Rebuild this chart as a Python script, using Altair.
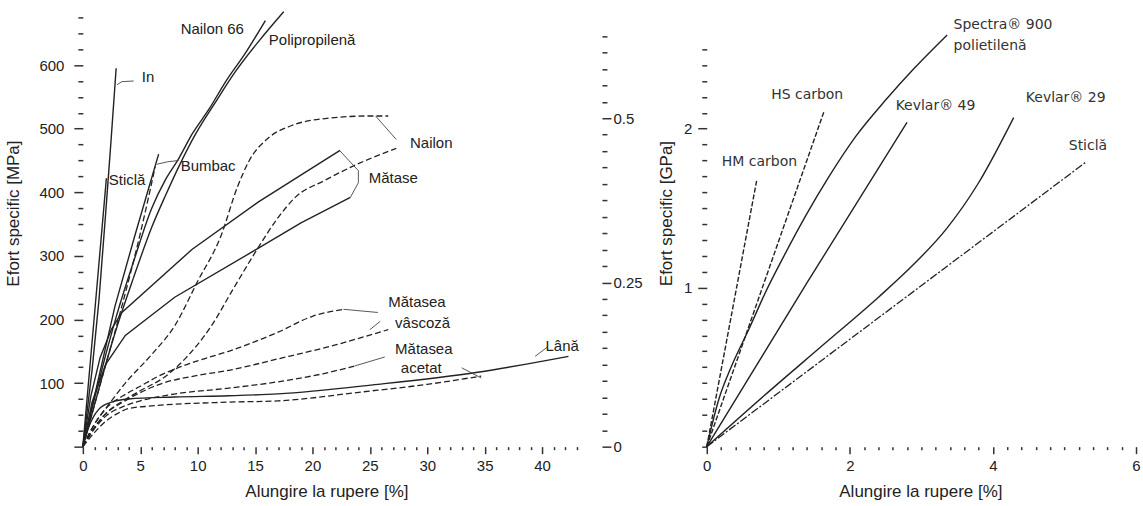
import altair as alt
import pandas as pd

# ---------------- Left panel: elongation [%] vs specific stress [MPa] ----------------
IN_X = [0, 0.8, 1.4, 2.0, 2.45, 2.9]
IN_Y = [0, 120, 230, 370, 480, 595]
STICLA_L_X = [0, 1.0, 2.05]
STICLA_L_Y = [0, 205, 422]
BUMBAC1_X = [0, 1.4, 2.8, 4.5, 6.6]
BUMBAC1_Y = [0, 110, 221, 330, 460]
BUMBAC2_X = [0, 1.7, 3.4, 5.0, 6.3]
BUMBAC2_Y = [0, 110, 221, 335, 440]
NAILON66_X = [0, 1, 2, 3, 4.4, 6, 7.2, 8.35, 9.5, 11, 12.4, 14.2, 15.9]
NAILON66_Y = [0, 75, 145, 210, 290, 375, 420, 453, 491, 531, 573, 620, 670]
POLIPROP_X = [0, 1, 2, 3, 4.4, 6, 7.2, 8.35, 9.8, 11.6, 13.3, 15.3, 17.5]
POLIPROP_Y = [0, 65, 130, 190, 265, 345, 395, 440, 491, 543, 590, 637, 684]
NAILON1_X = [0, 1, 2, 3.7, 6, 8, 10, 12, 13.5, 14.5, 16.2, 18.2, 21.1, 25, 26.6]
NAILON1_Y = [0, 35, 60, 100, 145, 190, 260, 330, 410, 450, 486, 505, 516, 520, 520]
NAILON2_X = [0, 1, 2, 3.5, 5, 7, 9, 11.2, 13, 15, 17, 18.5, 21.1, 24, 27.3]
NAILON2_Y = [0, 30, 52, 72, 88, 108, 140, 190, 245, 305, 360, 392, 419, 445, 469]
MATASE1_X = [0, 0.7, 1.5, 2.5, 3.4, 9.5, 15.3, 22.4]
MATASE1_Y = [0, 80, 140, 185, 211, 310, 385, 466]
MATASE2_X = [0, 0.8, 2, 3.7, 8, 15, 19, 23.3]
MATASE2_Y = [0, 70, 130, 175, 235, 309, 352, 392]
VASCOZA1_X = [0, 1, 2, 3.5, 5, 6.5, 10, 12.7, 17, 20, 22.7]
VASCOZA1_Y = [0, 35, 60, 80, 95, 110, 135, 150, 180, 205, 216]
VASCOZA2_X = [0, 1, 2, 3.5, 5, 7, 10, 12.7, 17, 22, 26.6]
VASCOZA2_Y = [0, 30, 52, 70, 85, 100, 112, 120, 138, 160, 184]
ACETAT1_X = [0, 1, 2, 3.5, 5, 7.7, 12.7, 17, 21, 23.7]
ACETAT1_Y = [0, 28, 48, 63, 72, 82, 92, 102, 115, 127]
ACETAT2_X = [0, 1, 2, 3, 4, 6, 12.7, 17, 24.3, 30, 34.7]
ACETAT2_Y = [0, 22, 40, 52, 60, 64, 70, 72, 86, 98, 111]
LANA_X = [0, 0.5, 1.4, 2.5, 4, 8, 12.7, 17, 25.7, 34.4, 42.3]
LANA_Y = [0, 30, 59, 70, 75, 78, 80, 83, 98, 117, 142]

# leader lines (label callouts), left panel
LEAD_IN = ([2.96, 3.4, 4.43], [569, 574, 575])
LEAD_BUMBAC = ([6.43, 7.4, 8.35], [444, 448, 450])
LEAD_NAILON = ([25.5, 27.3], [520, 483])
LEAD_MATASE = ([22.4, 24.0, 24.0, 23.3], [465, 434, 415, 392])
LEAD_VASC1 = ([22.7, 25.7], [216, 211])
LEAD_VASC2 = ([25.0, 25.9], [184, 197])
LEAD_ACET1 = ([23.7, 26.3], [127, 141])
LEAD_ACET2 = ([33.0, 34.7], [124, 108])
LEAD_LANA = ([39.4, 40.5], [142, 157])

LEFT_LABELS = ["In", "Sticlă", "Bumbac", "Nailon 66", "Polipropilenă", "Nailon", "Mătase",
               "Mătasea", "vâscoză", "Mătasea", "acetat", "Lână"]
LEFT_LABEL_X = [5.13, 2.26, 8.52, 8.52, 16.2, 28.5, 24.9, 26.6, 27.2, 27.2, 27.7, 40.3]
LEFT_LABEL_Y = [581, 419, 441, 656, 639, 477, 422, 227, 195, 153, 123, 159]

# ---------------- Right panel: elongation [%] vs specific stress [GPa] ----------------
HM_X = [0, 0.7]
HM_Y = [0, 1.68]
HS_X = [0, 1.64]
HS_Y = [0, 2.11]
SPECTRA_X = [0, 0.17, 0.35, 0.59, 0.82, 1.08, 1.38, 1.71, 2.08, 2.5, 2.9, 3.36]
SPECTRA_Y = [0, 0.30, 0.51, 0.74, 0.97, 1.20, 1.45, 1.70, 1.95, 2.18, 2.38, 2.59]
KEV49_X = [0, 1.4, 2.8]
KEV49_Y = [0, 1.03, 2.04]
KEV29_X = [0, 0.8, 1.6, 2.4, 2.9, 3.35, 3.8, 4.29]
KEV29_Y = [0, 0.32, 0.63, 0.94, 1.15, 1.37, 1.66, 2.07]
STICLA_R_X = [0, 5.3]
STICLA_R_Y = [0, 1.79]

RIGHT_LABELS = ["Spectra® 900", "polietilenă", "HS carbon", "Kevlar® 49", "Kevlar® 29", "Sticlă", "HM carbon"]
RIGHT_LABEL_X = [3.45, 3.45, 0.9, 2.64, 4.46, 5.06, 0.21]
RIGHT_LABEL_Y = [2.65, 2.52, 2.21, 2.14, 2.19, 1.89, 1.79]

# axis tick values
LEFT_X_TICKS = list(range(0, 44))
LEFT_Y_TICKS = list(range(0, 676, 25))
SEC_TICKS = [round(i * 0.025, 3) for i in range(26)]
RIGHT_X_TICKS = [round(i * 0.2, 2) for i in range(31)]
RIGHT_Y_TICKS = [round(i * 0.1, 2) for i in range(26)]

INK = "#222222"
LFONT = "Liberation Sans"
RFONT = "DejaVu Sans"


def table(pairs):
    frames = []
    for name, (xs, ys) in pairs.items():
        frames.append(pd.DataFrame({"s": name, "x": xs, "y": ys, "o": list(range(len(xs)))}))
    return pd.concat(frames, ignore_index=True)


def cond(test, major, minor):
    return {"condition": {"test": test, "value": major}, "value": minor}


# ---- axes
ax_lx = alt.Axis(values=LEFT_X_TICKS, tickSize=cond("datum.value % 5 === 0", 7, 3),
                 labelExpr="datum.value % 5 === 0 ? datum.label : ''", labelPadding=5,
                 title="Alungire la rupere [%]", titleX=244, titleY=45, titleBaseline="middle",
                 titleAlign="center")
ax_ly = alt.Axis(values=LEFT_Y_TICKS, tickSize=cond("datum.value % 100 === 0", 9, 5),
                 labelExpr="datum.value % 100 === 0 && datum.value > 0 ? datum.label : ''",
                 labelPadding=10, title="Efort specific [MPa]", titleX=-69, titleY=196,
                 titleAngle=270, titleAlign="center", titleBaseline="middle")
sec_test = "abs(datum.value * 4 - round(datum.value * 4)) < 0.001"
ax_sec = alt.Axis(orient="right", offset=14, values=SEC_TICKS, tickSize=cond(sec_test, 9, 5),
                  labelExpr=sec_test + " ? format(datum.value, '~g') : ''", labelPadding=2)
rx_test = "abs(datum.value / 2 - round(datum.value / 2)) < 0.001"
ax_rx = alt.Axis(values=RIGHT_X_TICKS, tickSize=cond(rx_test, 7, 3),
                 labelExpr=rx_test + " ? format(datum.value, '~g') : ''", labelPadding=5,
                 title="Alungire la rupere [%]", titleX=214, titleY=45, titleBaseline="middle",
                 titleAlign="center")
ry_test = "abs(datum.value - round(datum.value)) < 0.001"
ax_ry = alt.Axis(values=RIGHT_Y_TICKS, tickSize=cond(ry_test + " && datum.value > 0", 9, 5),
                 labelExpr=ry_test + " && datum.value > 0 ? format(datum.value, '~g') : ''",
                 labelPadding=6, title="Efort specific [GPa]", titleX=-40, titleY=196,
                 titleAngle=270, titleAlign="center", titleBaseline="middle")

LX = alt.X("x:Q", scale=alt.Scale(domain=[0, 44], nice=False, zero=False), axis=ax_lx)
LY = alt.Y("y:Q", scale=alt.Scale(domain=[0, 675], nice=False, zero=False), axis=ax_ly)
RX = alt.X("x:Q", scale=alt.Scale(domain=[0, 6], nice=False, zero=False), axis=ax_rx)
RY = alt.Y("y:Q", scale=alt.Scale(domain=[0, 2.7], nice=False, zero=False), axis=ax_ry)

# ---- left panel layers
left_solid_straight = table({
    "In": (IN_X, IN_Y), "Sticla": (STICLA_L_X, STICLA_L_Y), "Bumbac1": (BUMBAC1_X, BUMBAC1_Y),
    "Matase1": (MATASE1_X, MATASE1_Y), "Matase2": (MATASE2_X, MATASE2_Y),
})
left_solid_smooth = table({
    "Nailon66": (NAILON66_X, NAILON66_Y), "PP": (POLIPROP_X, POLIPROP_Y), "Lana": (LANA_X, LANA_Y),
})
left_dashed = table({
    "Bumbac2": (BUMBAC2_X, BUMBAC2_Y), "Nailon1": (NAILON1_X, NAILON1_Y), "Nailon2": (NAILON2_X, NAILON2_Y),
    "Vasc1": (VASCOZA1_X, VASCOZA1_Y), "Vasc2": (VASCOZA2_X, VASCOZA2_Y),
    "Acet1": (ACETAT1_X, ACETAT1_Y), "Acet2": (ACETAT2_X, ACETAT2_Y),
})
left_leads = table({
    "l1": LEAD_IN, "l2": LEAD_BUMBAC, "l3": LEAD_NAILON, "l4": LEAD_MATASE, "l5": LEAD_VASC1,
    "l6": LEAD_VASC2, "l7": LEAD_ACET1, "l8": LEAD_ACET2, "l9": LEAD_LANA,
})
left_text = pd.DataFrame({"t": LEFT_LABELS, "x": LEFT_LABEL_X, "y": LEFT_LABEL_Y})

l_straight = alt.Chart(left_solid_straight).mark_line(color=INK, strokeWidth=1.4).encode(
    x=LX, y=LY, detail="s:N", order="o:Q")
l_smooth = alt.Chart(left_solid_smooth).mark_line(color=INK, strokeWidth=1.4, interpolate="monotone").encode(
    x=LX, y=LY, detail="s:N", order="o:Q")
l_dashed = alt.Chart(left_dashed).mark_line(color=INK, strokeWidth=1.3, strokeDash=[6, 3],
                                            interpolate="monotone").encode(
    x=LX, y=LY, detail="s:N", order="o:Q")
l_leads = alt.Chart(left_leads).mark_line(color="#444444", strokeWidth=0.9).encode(
    x=LX, y=LY, detail="s:N", order="o:Q")
l_text = alt.Chart(left_text).mark_text(align="left", baseline="middle", font=LFONT, fontSize=15,
                                        color=INK).encode(x=LX, y=LY, text="t:N")
left_main = alt.layer(l_straight, l_smooth, l_dashed, l_leads, l_text)

sec = alt.Chart(pd.DataFrame({"g": [0.0]})).mark_point(opacity=0).encode(
    y=alt.Y("g:Q", scale=alt.Scale(domain=[0, 0.6535], nice=False, zero=False), axis=ax_sec, title=None))

left = alt.layer(left_main, sec).resolve_scale(y="independent").properties(width=506, height=430)

# ---- right panel layers
right_solid = table({"Spectra": (SPECTRA_X, SPECTRA_Y), "K49": (KEV49_X, KEV49_Y), "K29": (KEV29_X, KEV29_Y)})
right_dashed = table({"HM": (HM_X, HM_Y), "HS": (HS_X, HS_Y)})
right_dashdot = table({"Sticla": (STICLA_R_X, STICLA_R_Y)})
right_text = pd.DataFrame({"t": RIGHT_LABELS, "x": RIGHT_LABEL_X, "y": RIGHT_LABEL_Y})

r_solid = alt.Chart(right_solid).mark_line(color=INK, strokeWidth=1.4, interpolate="monotone").encode(
    x=RX, y=RY, detail="s:N", order="o:Q")
r_dashed = alt.Chart(right_dashed).mark_line(color=INK, strokeWidth=1.4, strokeDash=[5, 2]).encode(
    x=RX, y=RY, detail="s:N", order="o:Q")
r_dashdot = alt.Chart(right_dashdot).mark_line(color=INK, strokeWidth=1.3, strokeDash=[8, 2, 2, 2]).encode(
    x=RX, y=RY, detail="s:N", order="o:Q")
r_text = alt.Chart(right_text).mark_text(align="left", baseline="middle", font=RFONT, fontSize=14,
                                         color="#333333").encode(x=RX, y=RY, text="t:N")
right = alt.layer(r_solid, r_dashed, r_dashdot, r_text).properties(width=430, height=430)

chart = alt.hconcat(left, right, spacing=15).properties(
    padding={"left": 5, "top": 8, "right": 2, "bottom": 2}
).configure_view(strokeWidth=0).configure_axis(
    domain=False, grid=False, labelFont=LFONT, titleFont=LFONT, labelFontSize=15, titleFontSize=17,
    labelColor=INK, titleColor=INK, titleFontWeight="normal", tickColor="#333333", tickWidth=1.5,
    labelFlush=False, labelOverlap=False,
)

chart.save("out.html", embed_options={"renderer": "svg", "actions": False})
